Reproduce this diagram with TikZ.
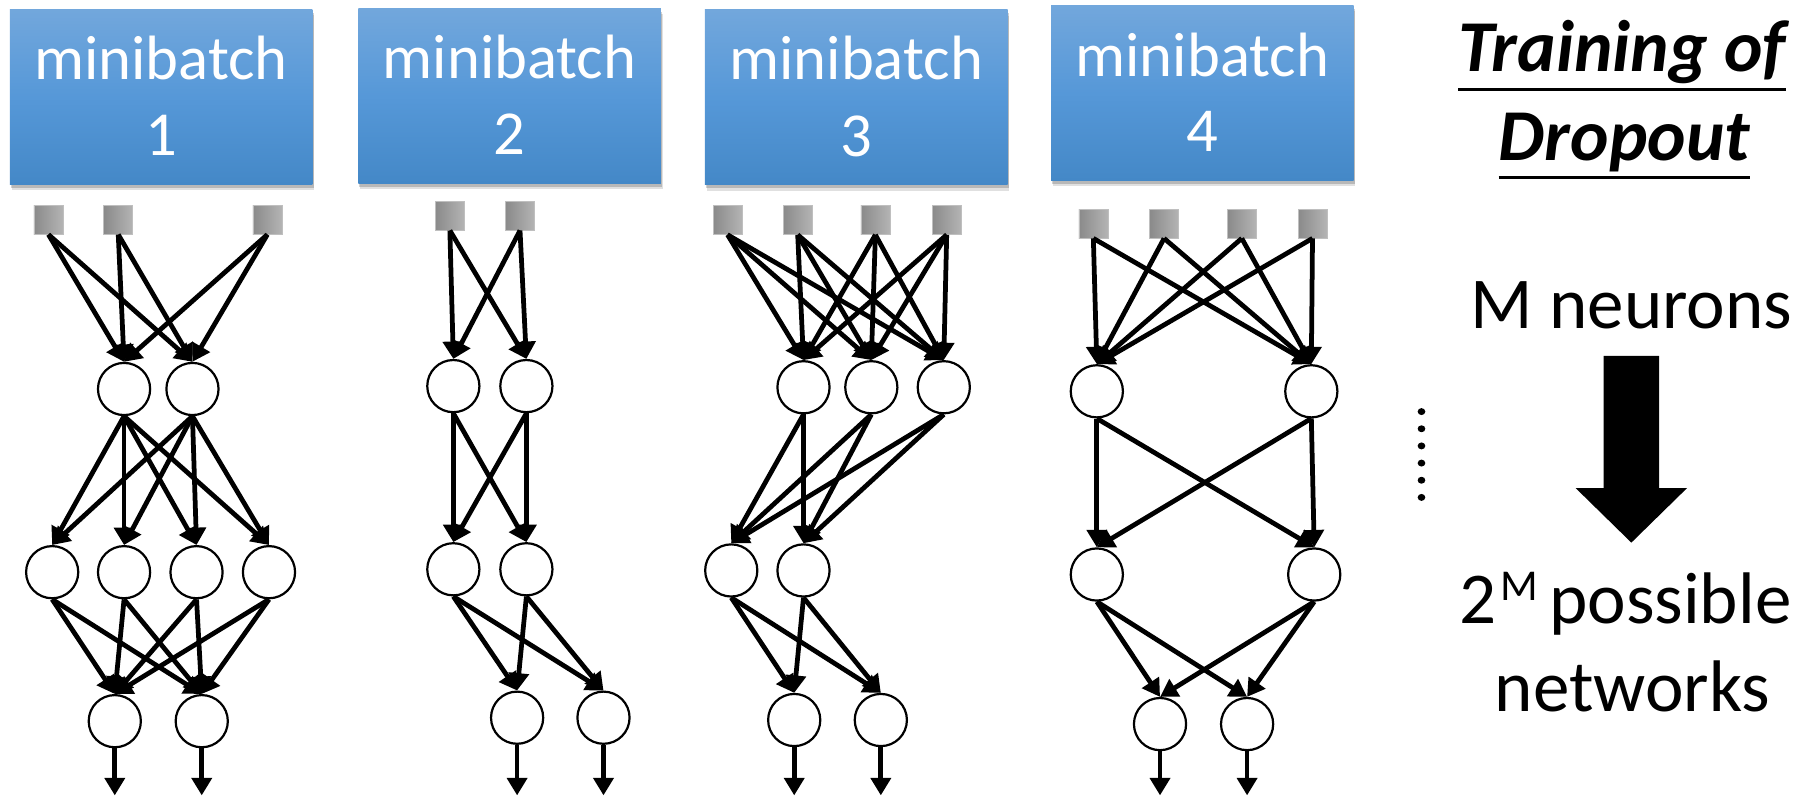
\documentclass[tikz,border=0pt]{standalone}
\usepackage{fontspec}
\setmainfont{Carlito}
\usetikzlibrary{arrows.meta,shadows}
\definecolor{boxtop}{RGB}{114,167,220}
\definecolor{boxmid}{RGB}{86,152,216}
\definecolor{boxbot}{RGB}{68,136,199}
\definecolor{sqleft}{RGB}{138,138,138}
\definecolor{sqright}{RGB}{180,180,180}
\tikzset{
  mbbox/.style={rectangle, minimum width=261pt, minimum height=151pt, inner sep=0pt,
    top color=boxtop, bottom color=boxbot, middle color=boxmid, draw=none,
    drop shadow={shadow xshift=1.5pt, shadow yshift=-5pt, opacity=0.12, fill=black},
    drop shadow={shadow xshift=1pt, shadow yshift=-3pt, opacity=0.18, fill=black}},
  mbtext/.style={text=white, font=\fontsize{54}{60}\selectfont, anchor=base, inner sep=0pt},
  sqnode/.style={rectangle, minimum width=25pt, minimum height=25pt, inner sep=0pt,
    left color=sqleft, right color=sqright, draw=black!25, line width=0.6pt},
  neur/.style={circle, draw=black, line width=1.9pt, minimum size=45pt, inner sep=0pt, fill=white},
  conn/.style={line width=4.1pt, -{Triangle[length=15pt,width=17pt]}},
  bigtext/.style={font=\fontsize{63}{70}\selectfont, anchor=base, inner sep=0pt},
  titletext/.style={font=\fontsize{63}{70}\selectfont\bfseries\itshape, anchor=base, inner sep=0pt},
  uline/.style={line width=2.6pt}
}
\begin{document}
\begin{tikzpicture}
\useasboundingbox (0,0) rectangle (1568pt,-687pt);
\begin{scope}[x=1pt,y=1pt]
% ---- boxes ----
\node[mbbox] (B1) at (139,-83.5) {};
\node[mbbox] (B2) at (439.5,-82.5) {};
\node[mbbox] (B3) at (738.5,-84) {};
\node[mbbox] (B4) at (1037,-80) {};
\node[mbtext] (B1a) at (139,-68.4) {minibatch};
\node[mbtext] (B1b) at (139,-133.7) {1};
\node[mbtext] (B2a) at (439.5,-67.6) {minibatch};
\node[mbtext] (B2b) at (439.5,-133) {2};
\node[mbtext] (B3a) at (738.5,-69) {minibatch};
\node[mbtext] (B3b) at (738.5,-135) {3};
\node[mbtext] (B4a) at (1037,-65.6) {minibatch};
\node[mbtext] (B4b) at (1037,-131) {4};

% ---- network 1 ----
\node[sqnode] (a1s1) at (41.8,-189.5) {};
\node[sqnode] (a1s2) at (102,-189.5) {};
\node[sqnode] (a1s3) at (230.6,-189.5) {};
\node[neur] (a1h1) at (107,-335.5) {};
\node[neur] (a1h2) at (166,-335.5) {};
\node[neur] (a1g1) at (45,-493.5) {};
\node[neur] (a1g2) at (107,-493.5) {};
\node[neur] (a1g3) at (169.5,-493.5) {};
\node[neur] (a1g4) at (232,-493.5) {};
\node[neur] (a1o1) at (99,-622) {};
\node[neur] (a1o2) at (174,-622) {};
\coordinate (a1e1) at (99,-686);
\coordinate (a1e2) at (174,-686);
\foreach \s in {1,2,3}{\foreach \t in {1,2}{\draw[conn] (a1s\s.south) -- (a1h\t.north);}}
\foreach \s in {1,2}{\foreach \t in {1,2,3,4}{\draw[conn] (a1h\s.south) -- (a1g\t.north);}}
\foreach \s in {1,2,3,4}{\foreach \t in {1,2}{\draw[conn] (a1g\s.south) -- (a1o\t.north);}}
\foreach \t in {1,2}{\draw[conn] (a1o\t.south) -- (a1e\t);}

% ---- network 2 ----
\node[sqnode] (a2s1) at (388,-186) {};
\node[sqnode] (a2s2) at (448.5,-186) {};
\node[neur] (a2h1) at (391,-333) {};
\node[neur] (a2h2) at (454,-333) {};
\node[neur] (a2g1) at (391,-491) {};
\node[neur] (a2g2) at (454,-491) {};
\node[neur] (a2o1) at (446,-619) {};
\node[neur] (a2o2) at (520.5,-619) {};
\coordinate (a2e1) at (446,-686);
\coordinate (a2e2) at (520.5,-686);
\foreach \s in {1,2}{\foreach \t in {1,2}{\draw[conn] (a2s\s.south) -- (a2h\t.north);}}
\foreach \s in {1,2}{\foreach \t in {1,2}{\draw[conn] (a2h\s.south) -- (a2g\t.north);}}
\foreach \s in {1,2}{\foreach \t in {1,2}{\draw[conn] (a2g\s.south) -- (a2o\t.north);}}
\foreach \t in {1,2}{\draw[conn] (a2o\t.south) -- (a2e\t);}

% ---- network 3 ----
\node[sqnode] (a3s1) at (627.5,-189.7) {};
\node[sqnode] (a3s2) at (688,-189.7) {};
\node[sqnode] (a3s3) at (755,-189.7) {};
\node[sqnode] (a3s4) at (816.5,-189.7) {};
\node[neur] (a3h1) at (693,-334) {};
\node[neur] (a3h2) at (751.5,-334) {};
\node[neur] (a3h3) at (814,-334) {};
\node[neur] (a3g1) at (630.7,-492) {};
\node[neur] (a3g2) at (693,-492) {};
\node[neur] (a3o1) at (685,-621) {};
\node[neur] (a3o2) at (759.7,-621) {};
\coordinate (a3e1) at (685,-686);
\coordinate (a3e2) at (759.7,-686);
\foreach \s in {1,2,3,4}{\foreach \t in {1,2,3}{\draw[conn] (a3s\s.south) -- (a3h\t.north);}}
\foreach \s in {1,2,3}{\foreach \t in {1,2}{\draw[conn] (a3h\s.south) -- (a3g\t.north);}}
\foreach \s in {1,2}{\foreach \t in {1,2}{\draw[conn] (a3g\s.south) -- (a3o\t.north);}}
\foreach \t in {1,2}{\draw[conn] (a3o\t.south) -- (a3e\t);}

% ---- network 4 ----
\node[sqnode] (a4s1) at (943,-192.8) {};
\node[sqnode] (a4s2) at (1004,-192.8) {};
\node[sqnode] (a4s3) at (1071,-192.8) {};
\node[sqnode] (a4s4) at (1132,-192.8) {};
\node[neur] (a4h1) at (946,-337.5) {};
\node[neur] (a4h2) at (1131,-337.5) {};
\node[neur] (a4g1) at (946,-495.5) {};
\node[neur] (a4g2) at (1133.5,-495.5) {};
\node[neur] (a4o1) at (1000.5,-624.5) {};
\node[neur] (a4o2) at (1075.6,-624.5) {};
\coordinate (a4e1) at (1000.5,-686);
\coordinate (a4e2) at (1075.6,-686);
\foreach \s in {1,2,3,4}{\foreach \t in {1,2}{\draw[conn] (a4s\s.south) -- (a4h\t.north);}}
\foreach \s in {1,2}{\foreach \t in {1,2}{\draw[conn] (a4h\s.south) -- (a4g\t.north);}}
\foreach \s in {1,2}{\foreach \t in {1,2}{\draw[conn] (a4g\s.south) -- (a4o\t.north);}}
\foreach \t in {1,2}{\draw[conn] (a4o\t.south) -- (a4e\t);}

% ---- vertical dots ----
\foreach \i in {0,...,5}{\fill (1226,-355-14.8*\i) ellipse (3.3 and 3);}

% ---- right side text ----
\node[titletext] (T1) at (1399,-62) {Training of};
\node[titletext] (T2) at (1401,-138) {Dropout};
\draw[uline] ([yshift=-15pt]T1.base west) -- ([yshift=-15pt]T1.base east);
\draw[uline] ([yshift=-15pt]T2.base west) -- ([yshift=-15pt]T2.base east);
\node[bigtext] (M) at (1407,-283) {M neurons};
\fill (1383,-307) -- (1431,-307) -- (1431,-421) -- (1455,-421) -- (1407,-468) -- (1359,-421) -- (1383,-421) -- cycle;
\node[bigtext] (P) at (1402,-538) {2\hspace{3pt}\raisebox{20pt}{\fontsize{38}{40}\selectfont M}\hspace{10pt}possible};
\node[bigtext] (N) at (1408,-613.5) {networks};
\end{scope}
\end{tikzpicture}
\end{document}
